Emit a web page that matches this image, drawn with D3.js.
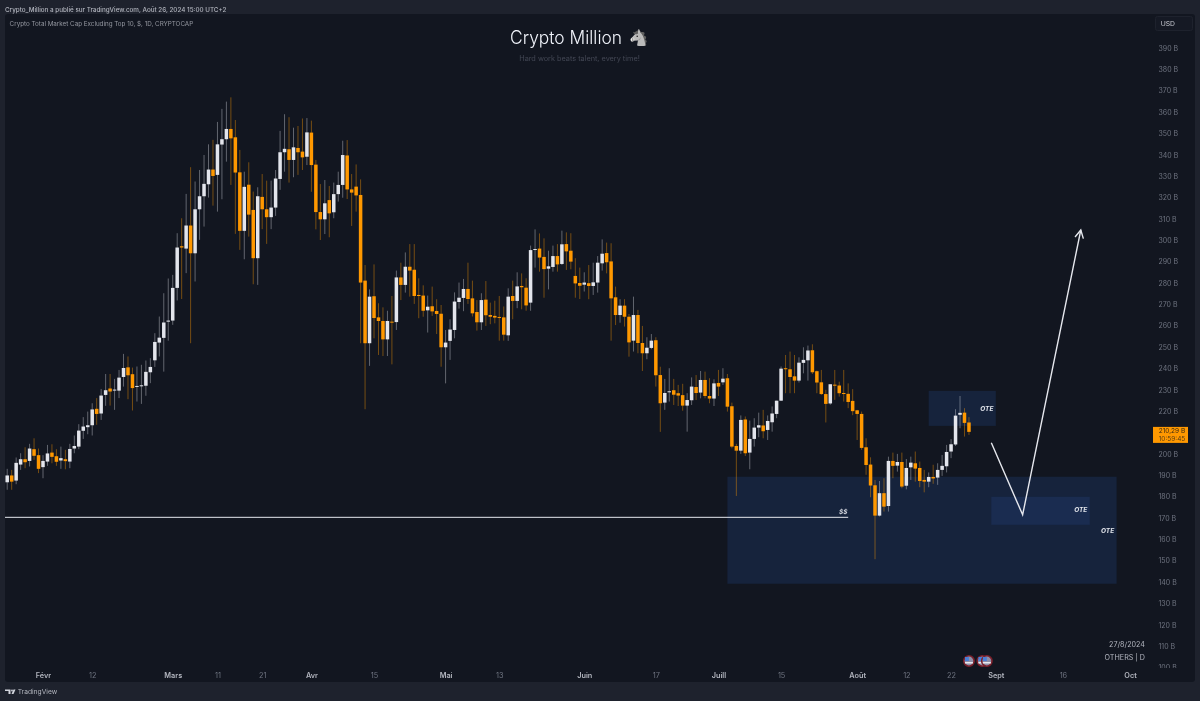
<!DOCTYPE html>
<html><head><meta charset="utf-8">
<script src="https://cdn.jsdelivr.net/npm/d3@7"></script>
<style>html,body{margin:0;padding:0;background:#1e222d;overflow:hidden}svg{display:block;filter:blur(0.3px)}text{font-family:Inter,"Liberation Sans",sans-serif}</style>
</head><body><svg id="c" width="1200" height="701"></svg>
<script>
const firstDay = "2024-01-24";
const opens = [186.7,189.9,187.5,195.0,197.5,196.7,202.2,199.4,193.8,196.4,200.6,198.9,196.9,197.5,196.4,202.5,203.4,210.8,212.5,213.4,221.1,218.9,227.6,230.6,229.8,229.6,236.0,240.5,237.3,231.5,231.8,231.9,238.2,243.8,252.1,254.3,261.9,262.4,277.7,297.2,296.1,306.9,293.9,314.5,320.6,326.2,333.1,330.6,344.8,347.3,352.1,348.2,331.8,304.4,326.0,314.2,291.6,320.3,314.5,310.8,315.3,328.7,341.2,342.6,337.6,343.2,341.5,339.1,350.4,335.4,313.2,309.8,318.8,313.1,321.6,325.9,339.7,323.8,325.1,321.2,281.1,251.8,273.8,263.9,262.2,253.6,261.9,261.7,282.6,279.1,287.6,286.2,274.4,274.1,267.2,269.1,266.9,265.6,249.9,252.9,258.0,271.1,273.0,277.2,272.8,266.4,261.6,272.2,265.0,264.6,264.1,263.9,255.5,273.9,271.6,278.6,277.8,270.8,295.8,296.1,292.2,286.7,287.5,292.6,288.9,298.2,295.1,283.3,280.0,279.2,279.9,278.6,280.2,289.2,294.0,290.1,273.3,265.0,269.4,264.2,253.0,265.0,251.9,247.1,249.6,253.2,236.9,224.0,229.0,229.8,228.4,227.5,222.6,225.1,231.3,228.7,234.6,227.1,225.9,233.2,233.5,235.4,222.3,203.7,201.5,216.1,200.6,207.0,212.3,213.3,211.2,214.8,218.7,224.9,240.1,239.6,236.3,234.3,242.6,243.8,248.5,238.7,233.5,228.0,223.6,232.4,232.0,228.5,228.1,224.8,220.4,218.7,203.1,195.0,185.3,171.1,181.6,175.6,196.7,194.5,196.2,185.1,193.7,195.6,193.4,187.8,187.0,189.2,188.9,192.5,194.2,201.1,204.4,218.3,219.3,214.7];
const closes = [189.9,187.0,195.8,197.5,196.1,202.5,199.1,193.0,196.7,200.2,198.6,196.3,198.0,196.6,202.3,203.7,210.9,212.8,213.4,220.8,218.7,227.3,229.8,229.2,230.1,235.7,240.2,236.8,230.8,231.8,232.1,238.4,240.7,252.4,254.4,261.5,262.4,277.7,296.6,296.6,306.9,293.9,314.5,320.6,326.4,333.1,330.1,344.9,347.3,352.1,347.7,331.7,304.4,325.0,312.0,291.6,320.6,314.5,310.8,315.3,328.9,341.2,342.8,337.6,343.5,341.2,338.8,350.5,335.2,313.2,309.8,317.3,312.6,321.6,325.9,339.9,323.8,322.3,321.0,280.2,251.8,273.6,263.6,262.2,253.6,262.2,261.6,282.6,279.1,287.6,285.8,273.9,273.9,267.0,268.9,266.7,265.5,249.9,252.1,258.2,271.3,273.1,277.2,272.5,265.8,261.6,272.0,264.9,264.2,263.8,263.8,255.8,273.6,271.6,278.4,278.0,269.5,295.4,295.9,291.9,286.5,287.8,292.6,288.7,298.1,294.8,290.0,279.8,278.7,280.2,278.6,280.3,289.5,293.7,289.7,272.8,265.0,269.4,264.2,252.2,265.0,251.9,247.1,249.7,253.0,236.8,223.7,228.5,229.3,227.7,227.3,222.6,225.2,231.5,228.5,234.6,227.1,225.9,233.0,231.5,235.2,222.1,203.4,201.5,215.9,200.3,207.0,212.3,213.4,210.6,215.4,218.9,224.9,239.9,239.9,236.0,234.3,242.7,244.0,248.4,238.2,233.4,228.0,223.4,232.6,232.0,228.4,228.1,224.3,220.0,218.7,202.8,194.8,185.2,171.1,181.6,175.3,196.7,194.4,196.2,184.7,193.4,195.9,193.1,187.3,187.0,189.2,188.5,192.5,194.4,200.9,204.5,217.9,219.2,214.5,210.3];
const highs = [193.0,192.5,198.3,200.3,203.1,204.7,207.3,202.5,199.4,204.2,204.5,202.2,203.4,201.9,204.7,208.6,213.9,217.2,219.8,223.7,226.1,230.4,237.4,237.4,235.1,239.3,246.8,245.6,240.4,240.9,241.7,243.7,244.8,256.5,264.3,275.2,282.1,283.8,303.3,310.3,321.7,334.2,327.5,332.9,339.9,344.9,347.0,355.4,361.5,364.9,366.9,356.3,342.3,332.1,336.5,322.8,324.8,331.0,327.9,327.9,332.9,351.2,359.0,357.6,352.7,353.5,357.0,357.2,356.0,337.6,326.3,328.2,325.4,327.0,332.1,346.6,346.9,331.0,335.5,328.5,288.4,277.0,288.7,270.5,268.6,267.0,273.9,285.8,289.5,294.3,298.2,298.2,282.2,278.9,274.1,278.3,272.4,269.7,258.0,263.0,275.6,280.2,281.9,289.5,281.1,272.0,275.2,280.9,270.8,271.7,273.9,269.0,277.5,281.1,285.0,284.5,282.2,297.5,305.1,303.2,300.9,295.1,297.5,298.2,304.5,303.7,303.3,291.6,287.2,285.0,288.4,289.5,292.6,300.4,298.9,298.6,278.3,272.4,272.4,265.5,273.6,267.4,259.9,254.6,256.1,254.6,240.8,235.1,240.1,235.1,232.3,232.8,228.4,235.8,236.9,238.8,238.5,235.4,234.9,239.3,240.1,237.4,224.0,204.7,218.0,217.5,215.6,216.7,219.3,220.6,218.0,222.2,224.9,240.9,246.3,247.9,246.3,245.2,249.9,250.7,251.3,239.0,239.3,230.0,232.6,239.3,233.8,239.3,233.0,230.3,220.6,219.8,207.3,198.4,187.8,187.3,188.6,198.7,200.6,200.0,200.6,197.6,198.7,201.1,196.4,192.5,191.3,194.9,195.6,199.5,204.2,206.9,220.9,227.1,221.4,217.2];
const lows = [183.2,183.2,185.8,192.5,193.3,194.1,197.2,191.0,188.6,194.4,195.6,194.4,193.0,192.8,193.3,200.3,202.2,207.0,209.2,208.6,213.6,215.9,222.5,222.6,220.6,226.1,231.5,225.6,220.3,224.5,223.4,227.2,233.1,240.7,245.6,238.5,253.0,260.4,271.8,272.5,284.6,251.8,280.7,300.2,306.4,320.0,316.2,313.4,319.2,336.8,325.9,303.0,295.5,291.1,301.7,279.4,279.1,305.2,298.3,305.2,311.4,323.6,332.1,327.0,329.5,330.6,332.9,335.2,322.7,305.1,300.1,302.9,301.4,310.3,318.1,319.9,319.3,306.7,313.4,251.8,220.9,241.2,254.1,246.3,245.8,245.8,241.9,258.0,272.0,275.5,273.6,270.2,263.5,264.2,256.8,264.6,256.1,240.8,233.0,244.0,254.1,268.0,266.8,270.2,264.3,257.7,258.0,259.9,260.7,261.1,253.0,253.0,252.9,263.0,268.2,267.7,267.0,267.0,287.2,285.3,273.1,277.0,285.3,285.3,288.4,286.1,286.4,273.1,272.5,276.0,272.4,274.4,275.5,285.8,284.5,253.0,260.3,261.4,259.6,245.5,247.9,247.1,238.8,244.3,249.0,231.5,210.3,220.6,224.5,222.9,222.4,220.2,210.4,222.9,225.2,226.0,226.0,223.7,222.4,227.1,232.3,219.8,202.6,180.3,200.0,199.0,192.8,203.4,207.8,207.3,206.5,210.4,216.7,224.8,228.4,228.4,228.4,233.4,237.7,234.3,237.4,228.4,227.6,214.7,223.0,225.3,226.8,224.5,221.4,218.1,206.5,201.9,190.2,179.7,150.7,170.7,173.0,173.0,188.6,191.7,183.9,183.4,187.8,187.0,184.4,182.0,184.4,186.0,185.5,189.7,191.3,198.0,203.7,212.0,208.1,208.9];
const yTickValues = [100,110,120,130,140,150,160,170,180,190,200,220,230,240,250,260,270,280,290,300,310,320,330,340,350,360,370,380,390];
const xTickDates = ["2024-02-01","2024-02-12","2024-03-01","2024-03-11","2024-03-21","2024-04-01","2024-04-15","2024-05-01","2024-05-13","2024-06-01","2024-06-17","2024-07-01","2024-07-15","2024-08-01","2024-08-12","2024-08-22","2024-09-01","2024-09-16","2024-10-01"];
const xTickLabels = ["Févr","12","Mars","11","21","Avr","15","Mai","13","Juin","17","Juill","15","Août","12","22","Sept","16","Oct"];
const monthLabels = ["Févr","Mars","Avr","Mai","Juin","Juill","Août","Sept","Oct"];
const zoneDates = [["2024-07-03","2024-09-28"],["2024-08-17","2024-09-01"],["2024-08-31","2024-09-22"]];
const zoneValues = [[189.3,139.2],[229.5,213.1],[179.9,166.8]];
const zoneFills = ["#16233c","#16233c","#1a2c50"];
const oteDates = ["2024-08-30","2024-09-20","2024-09-26"];
const oteValues = [219.9,172.6,163.0];
const levelDates = ["2024-01-15","2024-07-30"];
const levelValue = 170.3;
const pathDates = ["2024-08-31","2024-09-07","2024-09-20"];
const pathValues = [205.2,171.5,304.8];
const eventDates = ["2024-08-26","2024-08-29","2024-08-30"];
const lastPrice = 210.29;

const svg = d3.select("#c");
const day = d3.utcParse("%Y-%m-%d");
const start = day(firstDay);
const dates = opens.map((_, i) => d3.utcDay.offset(start, i));
const x = d3.scaleUtc().domain([day("2024-02-01"), day("2024-10-01")]).range([43, 1130]);
const y = d3.scaleLinear().domain([390, 100]).range([48, 667.5]);

svg.append("rect").attr("width",1200).attr("height",701).attr("fill","#1e222d");
svg.append("rect").attr("x",5).attr("y",14).attr("width",1190).attr("height",668).attr("rx",3).attr("fill","#121620");
const defs = svg.append("defs");
defs.append("clipPath").attr("id","pane").append("rect").attr("x",5).attr("y",14).attr("width",1143).attr("height",654);
defs.append("clipPath").attr("id","yclip2").append("rect").attr("x",-10).attr("y",30).attr("width",50).attr("height",638);

// zones
svg.append("g").selectAll("rect").data(zoneDates).join("rect")
  .attr("x",d=>x(day(d[0]))).attr("width",d=>x(day(d[1]))-x(day(d[0])))
  .attr("y",(d,i)=>y(zoneValues[i][0])).attr("height",(d,i)=>y(zoneValues[i][1])-y(zoneValues[i][0]))
  .attr("fill",(d,i)=>zoneFills[i]);

// level line
svg.append("line").attr("clip-path","url(#pane)").attr("x1",x(day(levelDates[0]))).attr("x2",x(day(levelDates[1]))).attr("y1",y(levelValue)).attr("y2",y(levelValue)).attr("stroke","#e6e8ee").attr("stroke-width",1);
svg.append("text").attr("x",x(day(levelDates[1]))-5).attr("y",y(levelValue)-3).attr("text-anchor","middle").attr("fill","#d1d4dc").attr("font-size",6.5).attr("font-weight",700).attr("font-style","italic").text("$$");

// candles
const up = i => closes[i] >= opens[i];
const g = svg.append("g").attr("clip-path","url(#pane)");
g.selectAll("line.w").data(dates).join("line").attr("class","w")
  .attr("x1",d=>x(d)).attr("x2",d=>x(d)).attr("y1",(d,i)=>y(highs[i])).attr("y2",(d,i)=>y(lows[i]))
  .attr("stroke",(d,i)=>up(i)?"#d1d4dc":"#ff9800").attr("stroke-opacity",0.42).attr("stroke-width",1);
g.selectAll("rect.b").data(dates).join("rect").attr("class","b")
  .attr("x",d=>x(d)-1.75).attr("width",3.5)
  .attr("y",(d,i)=>y(Math.max(opens[i],closes[i])))
  .attr("height",(d,i)=>Math.max(1,Math.abs(y(opens[i])-y(closes[i]))))
  .attr("fill",(d,i)=>up(i)?"#e3e5ec":"#ff9800");

// arrow
const pathGen = d3.line().x((d,i)=>x(day(pathDates[i]))).y((d,i)=>y(pathValues[i]));
svg.append("path").attr("d",pathGen(pathDates)).attr("fill","none").attr("stroke","#e6e8ee").attr("stroke-width",1.4);
const n = pathDates.length-1;
const tip = [x(day(pathDates[n])), y(pathValues[n])], prev=[x(day(pathDates[n-1])), y(pathValues[n-1])];
const ang = Math.atan2(tip[1]-prev[1], tip[0]-prev[0]);
const head = [ang+2.65, ang-2.65].map(a=>[tip[0]+9*Math.cos(a), tip[1]+9*Math.sin(a)]);
svg.append("path").attr("d",d3.line()([head[0],tip,head[1]])).attr("fill","none").attr("stroke","#e6e8ee").attr("stroke-width",1.4);

// OTE labels
svg.append("g").selectAll("text").data(oteDates).join("text")
  .attr("x",d=>x(day(d))).attr("y",(d,i)=>y(oteValues[i])).attr("text-anchor","middle")
  .attr("fill","#e0e3ea").attr("font-size",6.5).attr("font-weight",700).attr("font-style","italic").text("OTE");

// y axis
const yAxis = d3.axisRight(y).tickValues(yTickValues).tickSize(0).tickFormat(d=>d+" B");
const ya = svg.append("g").attr("transform","translate(1158.5,0)").attr("clip-path","url(#yclip2)").call(yAxis);
ya.select(".domain").remove();
ya.selectAll("text").attr("x",0).attr("fill","#6f7480").attr("font-size",7).attr("font-family","Inter,'Liberation Sans',sans-serif");

// x axis
const xAxis = d3.axisBottom(x).tickValues(xTickDates.map(day)).tickSize(0).tickFormat((d,i)=>xTickLabels[i]);
const xa = svg.append("g").attr("transform","translate(0,672.5)").call(xAxis);
xa.select(".domain").remove();
xa.selectAll("text").attr("y",0).attr("dy","0.71em").attr("font-size",7.3).attr("font-family","Inter,'Liberation Sans',sans-serif")
  .attr("fill",(d,i)=>monthLabels.includes(xTickLabels[i])?"#b2b5be":"#6f7480").attr("font-weight",(d,i)=>monthLabels.includes(xTickLabels[i])?600:400);

// USD
svg.append("rect").attr("x",1155.5).attr("y",16.5).attr("width",37).attr("height",14).attr("rx",2).attr("fill","#151924").attr("stroke","#1e222d");
svg.append("text").attr("x",1160.7).attr("y",25.8).attr("fill","#c6c8d0").attr("font-size",6.8).text("USD");

// last price
svg.append("rect").attr("x",1153).attr("y",y(lastPrice)-5).attr("width",35).attr("height",16).attr("fill","#ff9800");
svg.append("text").attr("x",1158.7).attr("y",y(lastPrice)+1.2).attr("fill","#3a2a10").attr("font-size",6.5).text("210,29 B");
svg.append("text").attr("x",1158.7).attr("y",y(lastPrice)+9.2).attr("fill","#5a3d10").attr("font-size",6.5).text("10:59:45");

// headers
svg.append("text").attr("x",5).attr("y",11.5).attr("fill","#b2b5be").attr("font-size",6.3).attr("font-weight",500).text("Crypto_Million a publié sur TradingView.com, Août 26, 2024 15:00 UTC+2");
svg.append("text").attr("x",9.6).attr("y",26).attr("fill","#9598a1").attr("font-size",6.28).text("Crypto Total Market Cap Excluding Top 10, $, 1D, CRYPTOCAP");
svg.append("text").attr("x",510).attr("y",43.5).attr("fill","#f0f3fa").attr("font-size",18).attr("font-weight",300).attr("textLength",112).attr("lengthAdjust","spacingAndGlyphs").text("Crypto Million");
svg.append("text").attr("x",628.5).attr("y",43).attr("fill","#9a9ba2").attr("font-size",15.5).style("filter","grayscale(1)").text("🐴");
svg.append("text").attr("x",579.5).attr("y",60.5).attr("text-anchor","middle").attr("fill","#434754").attr("font-size",7.3).text("Hard work beats talent, every time!");
svg.append("text").attr("x",1145).attr("y",647).attr("text-anchor","end").attr("fill","#b2b5be").attr("font-size",7.2).text("27/8/2024");
svg.append("text").attr("x",1145).attr("y",659.5).attr("text-anchor","end").attr("fill","#b2b5be").attr("font-size",7.2).text("OTHERS | D");

// event flags
const fl = svg.append("g").selectAll("g").data(eventDates).join("g").attr("transform",d=>`translate(${x(day(d))},661)`);
fl.append("circle").attr("r",5.2).attr("fill","#8f8fa8").attr("stroke","#7a1f2a").attr("stroke-width",1.6);
fl.append("path").attr("d","M-4,-4H0V0H-4Z").attr("fill","#4a7fd6");
fl.append("path").attr("d","M-4,1H4V2.5H-4Z").attr("fill","#e8e8ee");

// logo
svg.append("path").attr("d","M5,689.5H10.5V694H8.5V691H5Z M11.5,694L13.5,689.5H15.5L13.5,694Z").attr("fill","#d1d4dc");
svg.append("circle").attr("cx",12).attr("cy",690.5).attr("r",0.9).attr("fill","#d1d4dc");
svg.append("text").attr("x",17.7).attr("y",694).attr("fill","#b2b5be").attr("font-size",6.7).text("TradingView");
</script></body></html>
